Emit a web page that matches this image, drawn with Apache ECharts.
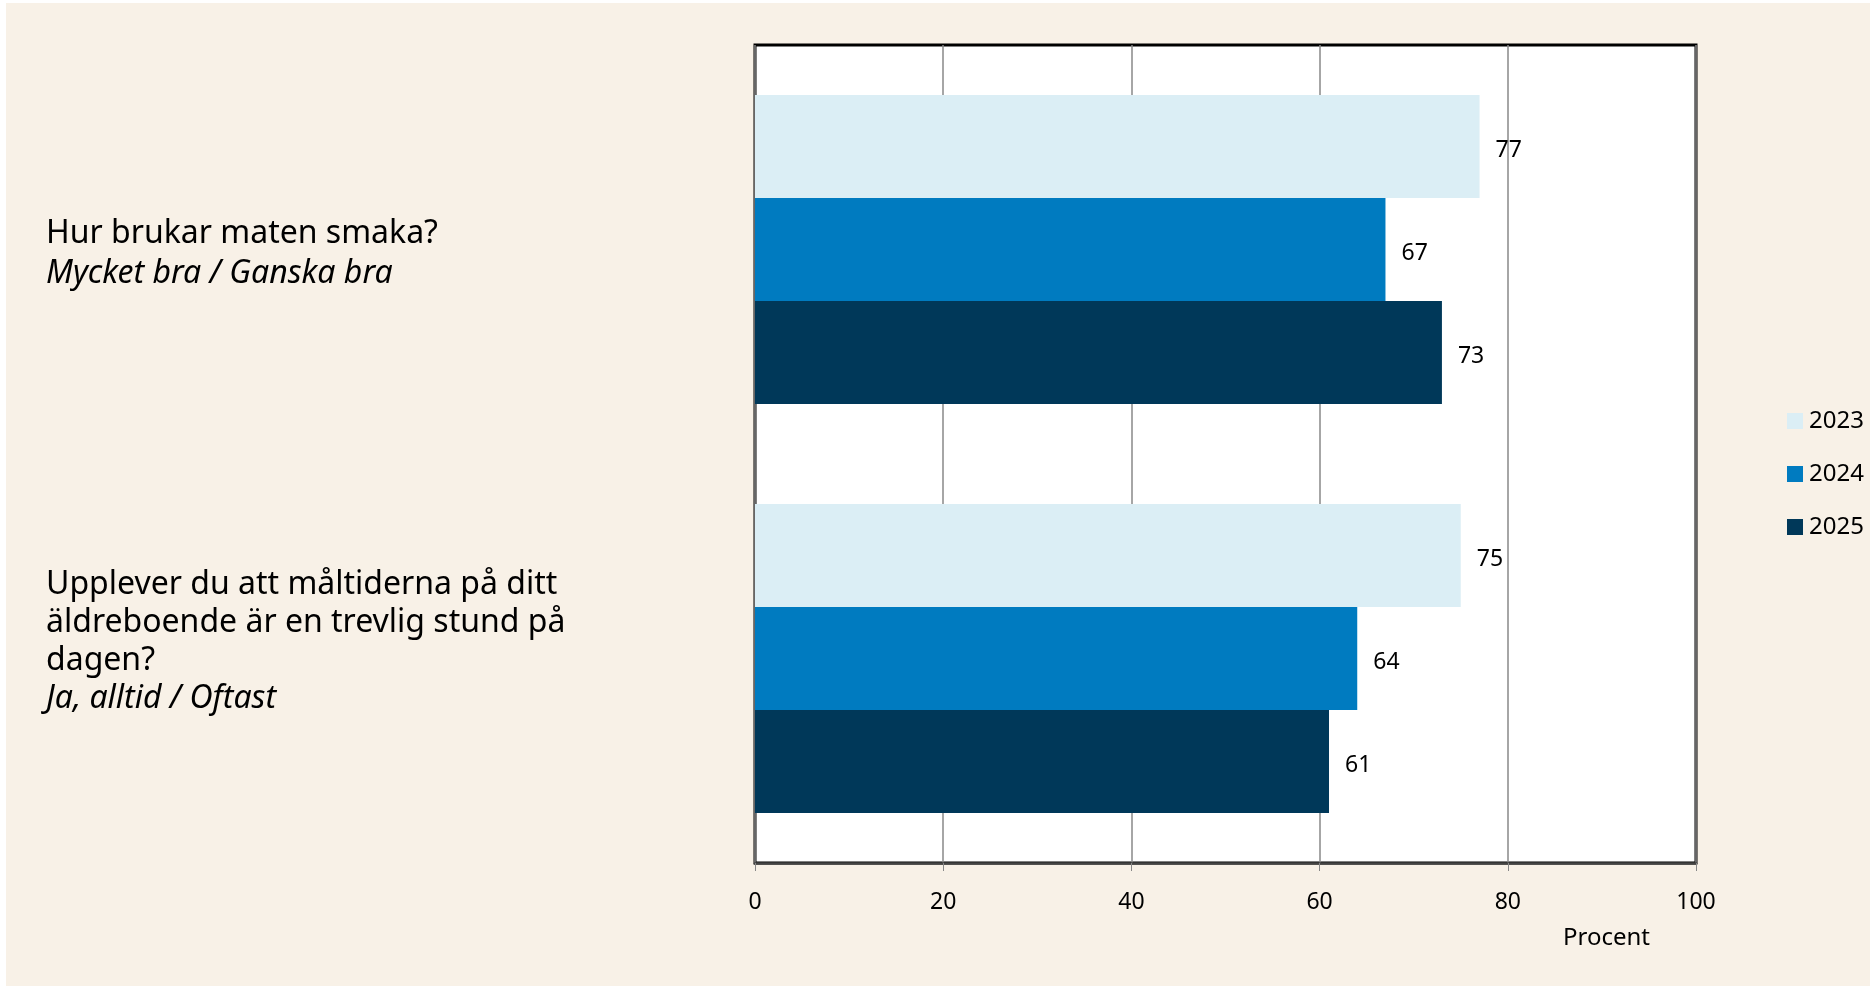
<!DOCTYPE html>
<html>
<head>
<meta charset="utf-8">
<script src="https://cdn.jsdelivr.net/npm/echarts@6/dist/echarts.min.js"></script>
<style>
html,body{margin:0;padding:0;background:#ffffff;}
#chart{position:absolute;left:6px;top:3px;width:1864px;height:983px;background:#f8f1e7;}
</style>
</head>
<body>
<div id="chart"></div>
<script>
const questions = [
  "Hur brukar maten smaka?",
  "Upplever du att måltiderna på ditt\näldreboende är en trevlig stund på\ndagen?"
];
const answers = [
  "Mycket bra / Ganska bra",
  "Ja, alltid / Oftast"
];
const years = ["2023", "2024", "2025"];
const values2023 = [77, 75];
const values2024 = [67, 64];
const values2025 = [73, 61];
const xTicks = [0, 20, 40, 60, 80, 100];
const colors = ["#dbeef5", "#007bc0", "#003859"];

const categories = questions.map((q, i) => q + "||" + answers[i]);
const seriesValues = [values2023, values2024, values2025];

const chart = echarts.init(document.getElementById('chart'));
const FONT = "'Noto Sans', 'Open Sans', sans-serif";
chart.setOption({
  backgroundColor: '#f8f1e7',
  textStyle: {fontFamily: FONT},
  animation: false,
  grid: {left: 749, right: 174, top: 42, bottom: 123, show: true, borderColor: '#000', borderWidth: 3, backgroundColor: '#ffffff'},
  xAxis: {
    type: 'value', min: xTicks[0], max: xTicks[xTicks.length - 1], interval: 20,
    axisLine: {show: true, lineStyle: {color: '#444', width: 2.5}},
    axisTick: {show: true, length: 8, lineStyle: {color: '#888'}},
    splitLine: {show: true, lineStyle: {color: '#888', width: 1.5}},
    axisLabel: {color: '#000', fontSize: 23, margin: 28, fontFamily: FONT}
  },
  yAxis: {
    type: 'category', inverse: true, data: categories,
    axisLine: {show: false}, axisTick: {show: false},
    axisLabel: {
      margin: 709, align: 'left', fontFamily: FONT, padding: [5, 0, 0, 0],
      formatter: function (v) {
        const parts = v.split('||');
        const multi = parts[0].indexOf('\n') >= 0;
        const qs = multi ? 'q' : 'q1';
        const as = multi ? 'a' : 'a1';
        const qLines = parts[0].split('\n').map(l => '{' + qs + '|' + l + '}').join('\n');
        let s = qLines + '\n{' + as + '|' + parts[1] + '}';
        if (multi) s += '\n{a| }';
        return s;
      },
      rich: {
        q: {fontSize: 32, color: '#000', lineHeight: 38, fontFamily: FONT},
        a: {fontSize: 32, color: '#000', lineHeight: 38, fontStyle: 'italic', fontFamily: FONT},
        q1: {fontSize: 32, color: '#000', lineHeight: 40, fontFamily: FONT, padding: [4, 0, 0, 0]},
        a1: {fontSize: 32, color: '#000', lineHeight: 40, fontStyle: 'italic', fontFamily: FONT, padding: [4, 0, 0, 0]}
      }
    }
  },
  legend: {
    orient: 'vertical', left: 1776, top: 401, itemWidth: 16, itemHeight: 16, itemGap: 29,
    icon: 'rect', textStyle: {fontSize: 24, color: '#000', fontFamily: FONT, padding: [0, 0, 0, 1]},
    data: years
  },
  series: years.map((y, i) => ({
    name: y, type: 'bar', data: seriesValues[i],
    barGap: '0%', barCategoryGap: '24.5%',
    itemStyle: {color: colors[i]},
    label: {show: true, position: 'right', distance: 16, offset: [0, 4], color: '#000', fontSize: 23, fontFamily: FONT}
  })),
  graphic: [{
    type: 'text', left: 1557, top: 923,
    style: {text: 'Procent', fontSize: 24, fill: '#000', fontFamily: FONT}
  }]
});
</script>
</body>
</html>
